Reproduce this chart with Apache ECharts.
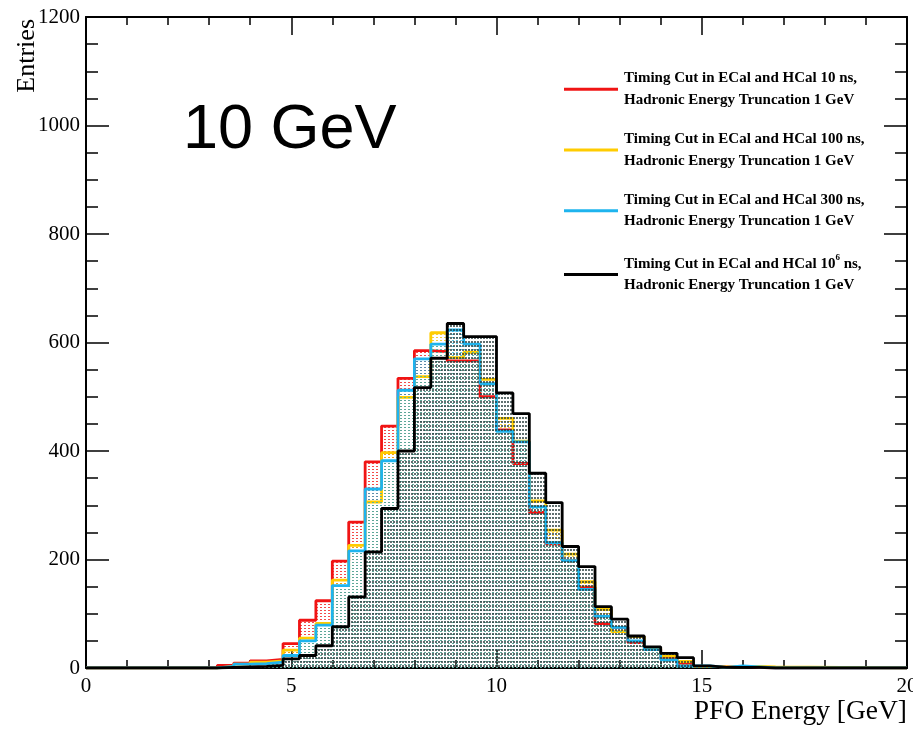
<!DOCTYPE html>
<html>
<head>
<meta charset="utf-8">
<script src="https://cdn.jsdelivr.net/npm/echarts@6/dist/echarts.min.js"></script>
<style>
html,body{margin:0;padding:0;background:#fff;}
#chart{width:913px;height:730px;}
</style>
</head>
<body>
<div id="chart"></div>
<script>
// Bin edges (GeV), bin width 0.4; only bins with entries are listed
const binEdges = [3.2,3.6,4.0,4.4,4.8,5.2,5.6,6.0,6.4,6.8,7.2,7.6,8.0,8.4,8.8,9.2,9.6,10.0,10.4,10.8,11.2,11.6,12.0,12.4,12.8,13.2,13.6,14.0,14.4,14.8,15.2,15.6,16.0,16.4,16.8];

const cut10ns   = [5,9,13,16,45,88,124,197,269,380,446,534,585,583,566,566,500,439,377,287,229,198,149,82,75,47,35,18,8,3,2,3,1,0];
const cut100ns  = [3,7,11,13,33,55,82,162,226,306,397,499,537,618,572,582,532,460,418,308,254,210,159,108,67,58,37,22,12,3,2,2,3,2];
const cut300ns  = [3,7,8,11,23,50,79,152,216,330,382,512,570,597,623,597,524,436,417,297,231,198,145,95,75,50,34,15,4,4,1,4,2,0];
const cut1e6ns  = [1,2,3,5,17,23,41,76,131,214,294,400,517,571,635,611,611,507,469,359,305,224,187,113,90,59,39,27,19,4,1,1,1,0];

const seriesNames = [
  '{t|Timing Cut in ECal and HCal 10 ns,}\n{t|Hadronic Energy Truncation 1 GeV}',
  '{t|Timing Cut in ECal and HCal 100 ns,}\n{t|Hadronic Energy Truncation 1 GeV}',
  '{t|Timing Cut in ECal and HCal 300 ns,}\n{t|Hadronic Energy Truncation 1 GeV}',
  '{t|Timing Cut in ECal and HCal 10}{sup|6}{t| ns,}\n{t|Hadronic Energy Truncation 1 GeV}'
];
const legendKeys = ['h10','h100','h300','h1e6'];
const seriesColors = ['#f01414','#ffcc00','#1eb4ee','#000000'];
const dotColors = ['rgba(240,30,30,0.8)','rgba(240,190,0,0.75)','rgba(30,170,210,0.7)','rgba(35,55,55,0.72)'];
const xTicks = {min:0,max:20,interval:5};
const yTicks = {min:0,max:1200,interval:200};

function makeDots(color, w, h, dw, dh) {
  const c = document.createElement('canvas');
  c.width = w; c.height = h;
  const g = c.getContext('2d');
  g.fillStyle = color;
  g.fillRect(0, 1, dw, dh);
  return c;
}

function histData(vals) {
  const d = [[xTicks.min, 0]];
  for (let i = 0; i < vals.length; i++) d.push([binEdges[i], vals[i]]);
  d.push([binEdges[binEdges.length - 1], 0]);
  d.push([xTicks.max, 0]);
  return d;
}

const allVals = [cut10ns, cut100ns, cut300ns, cut1e6ns];
const patSpec = [[4,3,2,1],[4,3,2,1],[4,3,2,1],[3,4,2,2]];
const series = allVals.map((v, i) => ({
  name: legendKeys[i],
  type: 'line',
  step: 'end',
  xAxisIndex: 0,
  yAxisIndex: 0,
  data: histData(v),
  symbol: 'none',
  color: seriesColors[i],
  lineStyle: {color: seriesColors[i], width: 2.8},
  areaStyle: {color: {image: makeDots(dotColors[i], patSpec[i][0], patSpec[i][1], patSpec[i][2], patSpec[i][3]), repeat: 'repeat'}, opacity: 1},
  z: 2 + i,
  animation: false
}));
// invisible helper series so the mirrored frame axes (top / right) are laid out
series.push({type: 'line', xAxisIndex: 1, yAxisIndex: 1, data: [], symbol: 'none', silent: true});

const serif = 'Liberation Serif';
const plainNum = function (v) { return String(v); };
function mkAxis(base, extra) { return Object.assign({}, base, extra); }
const axisCommon = {
  axisLine: {show: true, onZero: false, lineStyle: {color: '#000', width: 2}},
  splitLine: {show: false},
  minorSplitLine: {show: false}
};

const chart = echarts.init(document.getElementById('chart'), null, {renderer: 'canvas'});
chart.setOption({
  animation: false,
  backgroundColor: '#fff',
  grid: {left: 86, right: 6, top: 17, bottom: 62, containLabel: false, outerBoundsMode: 'none'},
  xAxis: [
    mkAxis(axisCommon, {
      type: 'value', min: xTicks.min, max: xTicks.max, interval: xTicks.interval, position: 'bottom',
      axisTick: {show: true, inside: true, length: 18, lineStyle: {color: '#000', width: 1.5}},
      minorTick: {show: true, splitNumber: 5, length: 8, lineStyle: {color: '#000', width: 1.5}},
      axisLabel: {color: '#000', fontFamily: serif, fontSize: 21, margin: 8, formatter: plainNum}
    }),
    mkAxis(axisCommon, {
      type: 'value', min: xTicks.min, max: xTicks.max, interval: xTicks.interval, position: 'top',
      axisTick: {show: true, inside: false, length: -18, lineStyle: {color: '#000', width: 1.5}},
      minorTick: {show: true, splitNumber: 5, length: -8, lineStyle: {color: '#000', width: 1.5}},
      axisLabel: {show: false}
    })
  ],
  yAxis: [
    mkAxis(axisCommon, {
      type: 'value', min: yTicks.min, max: yTicks.max, interval: yTicks.interval, position: 'left',
      axisTick: {show: true, inside: true, length: 23, lineStyle: {color: '#000', width: 1.5}},
      minorTick: {show: true, splitNumber: 4, length: 12, lineStyle: {color: '#000', width: 1.5}},
      axisLabel: {color: '#000', fontFamily: serif, fontSize: 21, margin: 6, formatter: plainNum}
    }),
    mkAxis(axisCommon, {
      type: 'value', min: yTicks.min, max: yTicks.max, interval: yTicks.interval, position: 'right',
      axisTick: {show: true, inside: false, length: -23, lineStyle: {color: '#000', width: 1.5}},
      minorTick: {show: true, splitNumber: 4, length: -12, lineStyle: {color: '#000', width: 1.5}},
      axisLabel: {show: false}
    })
  ],
  legend: {
    orient: 'vertical',
    left: 559,
    top: 66,
    icon: 'rect',
    itemWidth: 54,
    itemHeight: 3,
    itemGap: 24.2,
    data: legendKeys,
    formatter: function (name) { return seriesNames[legendKeys.indexOf(name)]; },
    textStyle: {
      color: '#000',
      padding: [0, 0, 0, 1],
      rich: {
        t: {fontFamily: serif, fontWeight: 'bold', fontSize: 15, lineHeight: 21.5, color: '#000'},
        sup: {fontFamily: serif, fontWeight: 'bold', fontSize: 9, lineHeight: 12, verticalAlign: 'top', color: '#000'}
      }
    }
  },
  graphic: [
    {type: 'text', left: 183, top: 99, style: {text: '10 GeV', font: '63px "Liberation Sans"', fill: '#000'}},
    {type: 'text', x: 27, y: 19, rotation: Math.PI / 2,
      style: {text: 'Entries', font: '26px "Liberation Serif"', fill: '#000', align: 'right', verticalAlign: 'middle'}},
    {type: 'text', x: 907, y: 712,
      style: {text: 'PFO Energy [GeV]', font: '27.5px "Liberation Serif"', fill: '#000', align: 'right', verticalAlign: 'middle'}}
  ],
  series: series
});
</script>
</body>
</html>
